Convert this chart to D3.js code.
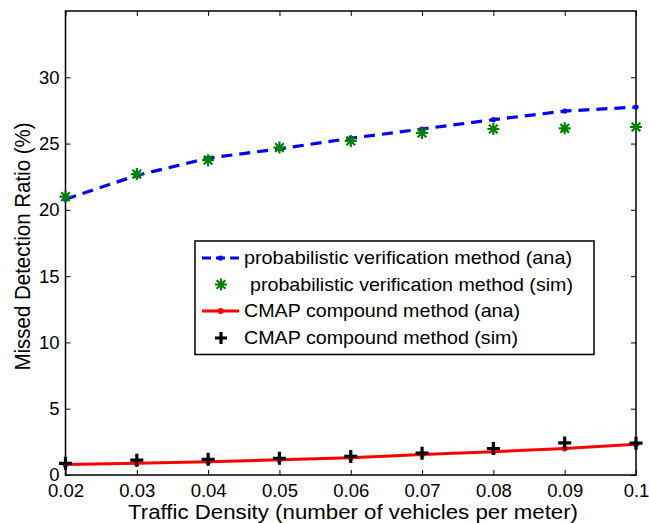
<!DOCTYPE html>
<html>
<head>
<meta charset="UTF-8">
<script src="https://d3js.org/d3.v7.min.js"></script>
<style>
  body { margin: 0; background: #fff; }
  svg { display: block; font-family: "Liberation Sans", Arial, sans-serif; }
</style>
</head>
<body>
<svg id="chart" width="649" height="523"></svg>
<script>
// data
const density = [0.02, 0.03, 0.04, 0.05, 0.06, 0.07, 0.08, 0.09, 0.1];
const probAna = [20.8, 22.6, 23.9, 24.6, 25.4, 26.1, 26.8, 27.45, 27.75];
const probSim = [21.0, 22.7, 23.75, 24.7, 25.2, 25.8, 26.1, 26.15, 26.25];
const cmapAna = [0.8, 0.88, 1.0, 1.15, 1.3, 1.55, 1.76, 2.0, 2.32];
const cmapSim = [0.88, 1.12, 1.18, 1.26, 1.4, 1.65, 2.0, 2.42, 2.4];
const xTicks = [0.02, 0.03, 0.04, 0.05, 0.06, 0.07, 0.08, 0.09, 0.1];
const xTickLabels = ["0.02", "0.03", "0.04", "0.05", "0.06", "0.07", "0.08", "0.09", "0.1"];
const yTicks = [0, 5, 10, 15, 20, 25, 30];
const legendLabels = [
  "probabilistic verification method (ana)",
  "probabilistic verification method (sim)",
  "CMAP compound method (ana)",
  "CMAP compound method (sim)"
];

const svg = d3.select("#chart");
const L = 65.5, R = 636, T = 11, B = 475;

const x = d3.scaleLinear().domain([0.02, 0.1]).range([L, R]);
const y = d3.scaleLinear().domain([0, 35]).range([B, T]);

// axes with inward ticks on all four sides
svg.append("g").attr("transform", `translate(0,${B})`)
  .call(d3.axisBottom(x).tickValues(xTicks).tickSizeInner(-5).tickSizeOuter(0).tickPadding(9)
    .tickFormat((d, i) => xTickLabels[i]));
svg.append("g").attr("transform", `translate(${L},0)`)
  .call(d3.axisLeft(y).tickValues(yTicks).tickSizeInner(-5).tickSizeOuter(0).tickPadding(6));
svg.append("g").attr("transform", `translate(0,${T})`)
  .call(d3.axisTop(x).tickValues(xTicks).tickSizeInner(-5).tickSizeOuter(0).tickFormat(""));
svg.append("g").attr("transform", `translate(${R},0)`)
  .call(d3.axisRight(y).tickValues(yTicks).tickSizeInner(-5).tickSizeOuter(0).tickFormat(""));

svg.selectAll(".domain").remove();
svg.selectAll(".tick line").attr("stroke", "#000").attr("stroke-width", 1);
svg.selectAll(".tick text").attr("fill", "#000").style("font-size", "18.5px");

svg.append("rect").attr("x", L).attr("y", T).attr("width", R - L).attr("height", B - T)
  .attr("fill", "none").attr("stroke", "#000").attr("stroke-width", 1.5);

const pts = vals => density.map((d, i) => [d, vals[i]]);
const line = d3.line().x(d => x(d[0])).y(d => y(d[1]));

// blue dashed analytic curve
svg.append("path").datum(pts(probAna)).attr("d", line)
  .attr("fill", "none").attr("stroke", "#0000ff").attr("stroke-width", 3.2)
  .attr("stroke-dasharray", "11,7");
svg.append("g").selectAll("circle").data(pts(probAna)).join("circle")
  .attr("cx", d => x(d[0])).attr("cy", d => y(d[1])).attr("r", 2.6).attr("fill", "#0000ff");

// red analytic curve
svg.append("path").datum(pts(cmapAna)).attr("d", line)
  .attr("fill", "none").attr("stroke", "#ff0000").attr("stroke-width", 3);
svg.append("g").selectAll("circle").data(pts(cmapAna)).join("circle")
  .attr("cx", d => x(d[0])).attr("cy", d => y(d[1])).attr("r", 3).attr("fill", "#ff0000");

function asterisk(g, cx, cy, s) {
  const p = `M${cx - s},${cy}H${cx + s}M${cx},${cy - s}V${cy + s}` +
    `M${cx - s * 0.72},${cy - s * 0.72}L${cx + s * 0.72},${cy + s * 0.72}` +
    `M${cx - s * 0.72},${cy + s * 0.72}L${cx + s * 0.72},${cy - s * 0.72}`;
  g.append("path").attr("d", p).attr("stroke", "#008000").attr("stroke-width", 2.2).attr("fill", "none");
}
function plus(g, cx, cy, s) {
  g.append("path").attr("d", `M${cx - s},${cy}H${cx + s}M${cx},${cy - s}V${cy + s}`)
    .attr("stroke", "#000").attr("stroke-width", 3.2).attr("fill", "none");
}

const gSim = svg.append("g");
pts(probSim).forEach(d => asterisk(gSim, x(d[0]), y(d[1]), 6));
pts(cmapSim).forEach(d => plus(gSim, x(d[0]), y(d[1]), 6.5));

// legend
const lg = svg.append("g");
lg.append("rect").attr("x", 195).attr("y", 241).attr("width", 399).attr("height", 113.5)
  .attr("fill", "#fff").attr("stroke", "#000").attr("stroke-width", 1.5);
const rowY = [258, 284.5, 311, 338];
const textX = [244, 250, 244, 244];
const textW = [328, 323, 276, 274];
lg.append("line").attr("x1", 202).attr("x2", 239).attr("y1", rowY[0]).attr("y2", rowY[0])
  .attr("stroke", "#0000ff").attr("stroke-width", 3.2).attr("stroke-dasharray", "9,5");
lg.append("circle").attr("cx", 220.5).attr("cy", rowY[0]).attr("r", 2.6).attr("fill", "#0000ff");
asterisk(lg, 221, rowY[1], 6);
lg.append("line").attr("x1", 202).attr("x2", 239).attr("y1", rowY[2]).attr("y2", rowY[2])
  .attr("stroke", "#ff0000").attr("stroke-width", 3);
lg.append("circle").attr("cx", 220.5).attr("cy", rowY[2]).attr("r", 3).attr("fill", "#ff0000");
plus(lg, 221, rowY[3], 6);
lg.selectAll("text").data(legendLabels).join("text")
  .attr("x", (d, i) => textX[i]).attr("y", (d, i) => rowY[i]).attr("dy", "0.35em")
  .attr("textLength", (d, i) => textW[i]).attr("lengthAdjust", "spacingAndGlyphs")
  .style("font-size", "18.5px").text(d => d);

// axis titles
svg.append("text").attr("x", 128).attr("y", 518.5)
  .attr("textLength", 450).attr("lengthAdjust", "spacingAndGlyphs")
  .style("font-size", "21px").text("Traffic Density (number of vehicles per meter)");
svg.append("text").attr("transform", `translate(30,246.5) scale(1.1,1) rotate(-90)`)
  .attr("text-anchor", "middle").style("font-size", "20.5px").text("Missed Detection Ratio (%)");
</script>
</body>
</html>
